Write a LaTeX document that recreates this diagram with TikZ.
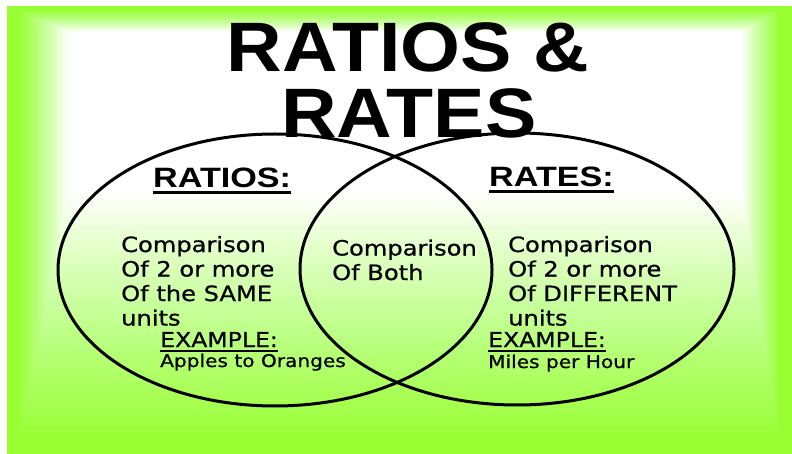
\documentclass[tikz,border=0pt]{standalone}
\usepackage{fontspec}
\usetikzlibrary{shapes.geometric,positioning}
\newfontfamily\headfont[FakeStretch=1.1]{Liberation Sans}
\newfontfamily\subfont[FakeStretch=1.22]{Liberation Sans}
\newfontfamily\comic[FakeStretch=1.15,FakeBold=0.8]{DejaVu Sans}
\definecolor{Lime}{HTML}{99FF33}
\tikzset{
  venn/.style={draw=black,ellipse,line width=3pt,minimum width=434pt,minimum height=272pt,inner sep=0pt},
  headline/.style={font=\headfont\bfseries\fontsize{70}{70}\selectfont,inner sep=0pt,anchor=base},
  sethead/.style={font=\subfont\bfseries\fontsize{28}{28}\selectfont,inner sep=0pt,anchor=base west},
  bodytext/.style={font=\comic\fontsize{21}{24.5}\selectfont,align=left,inner sep=0pt,anchor=base west},
  exlabel/.style={font=\comic\fontsize{20.5}{20.5}\selectfont,inner sep=0pt,anchor=base west},
  extext/.style={font=\comic\fontsize{17.5}{17.5}\selectfont,inner sep=0pt,anchor=base west},
  uline/.style={draw=black,line width=2.4pt},
  thinline/.style={draw=black,line width=1.8pt}
}
\begin{document}
\begin{tikzpicture}[x=1pt,y=-1pt]
  \useasboundingbox (0,0) rectangle (792,454);
  \fill[white] (0,0) rectangle (792,454);
  % green frame fading into the white middle
  \fill[Lime] (7,6) rectangle (792,454);
  \foreach \k in {1,...,40}{
    \pgfmathsetmacro\op{1/(41-\k)}
    \fill[white,opacity=\op] (18+1.25*\k,10+0.55*\k) rectangle (780-0.95*\k,445-6.25*\k);
  }

  \node[venn] (ratioset) at (275,270) {};
  \node[venn] (rateset) at (517,269) {};

  \node[headline] (titletop) at (408,72) {RATIOS \&};
  \node[headline] (titlebot) at (409,138) {RATES};

  % left set
  \node[sethead] (ratiohead) at (153,188) {RATIOS:};
  \draw[uline] ([yshift=-4.5pt]ratiohead.base west) -- ([yshift=-4.5pt]ratiohead.base east);
  \node[bodytext] (ratiotext) at (121,325.5) {Comparison\\Of 2 or more\\Of the SAME\\units};
  \node[exlabel] (ratioex) at (160,347) {EXAMPLE:};
  \draw[thinline] ([yshift=-4pt]ratioex.base west) -- ([yshift=-4pt]ratioex.base east);
  \node[extext] (ratioeg) at (160,367) {Apples to Oranges};

  % overlap
  \node[bodytext] (bothtext) at (332,280) {Comparison\\Of Both};

  % right set
  \node[sethead] (ratehead) at (489,187) {RATES:};
  \draw[uline] ([yshift=-4.5pt]ratehead.base west) -- ([yshift=-4.5pt]ratehead.base east);
  \node[bodytext] (ratetext) at (508,325.5) {Comparison\\Of 2 or more\\Of DIFFERENT\\units};
  \node[exlabel] (rateex) at (488,347) {EXAMPLE:};
  \draw[thinline] ([yshift=-4pt]rateex.base west) -- ([yshift=-4pt]rateex.base east);
  \node[extext] (rateeg) at (488,368) {Miles per Hour};
\end{tikzpicture}
\end{document}
